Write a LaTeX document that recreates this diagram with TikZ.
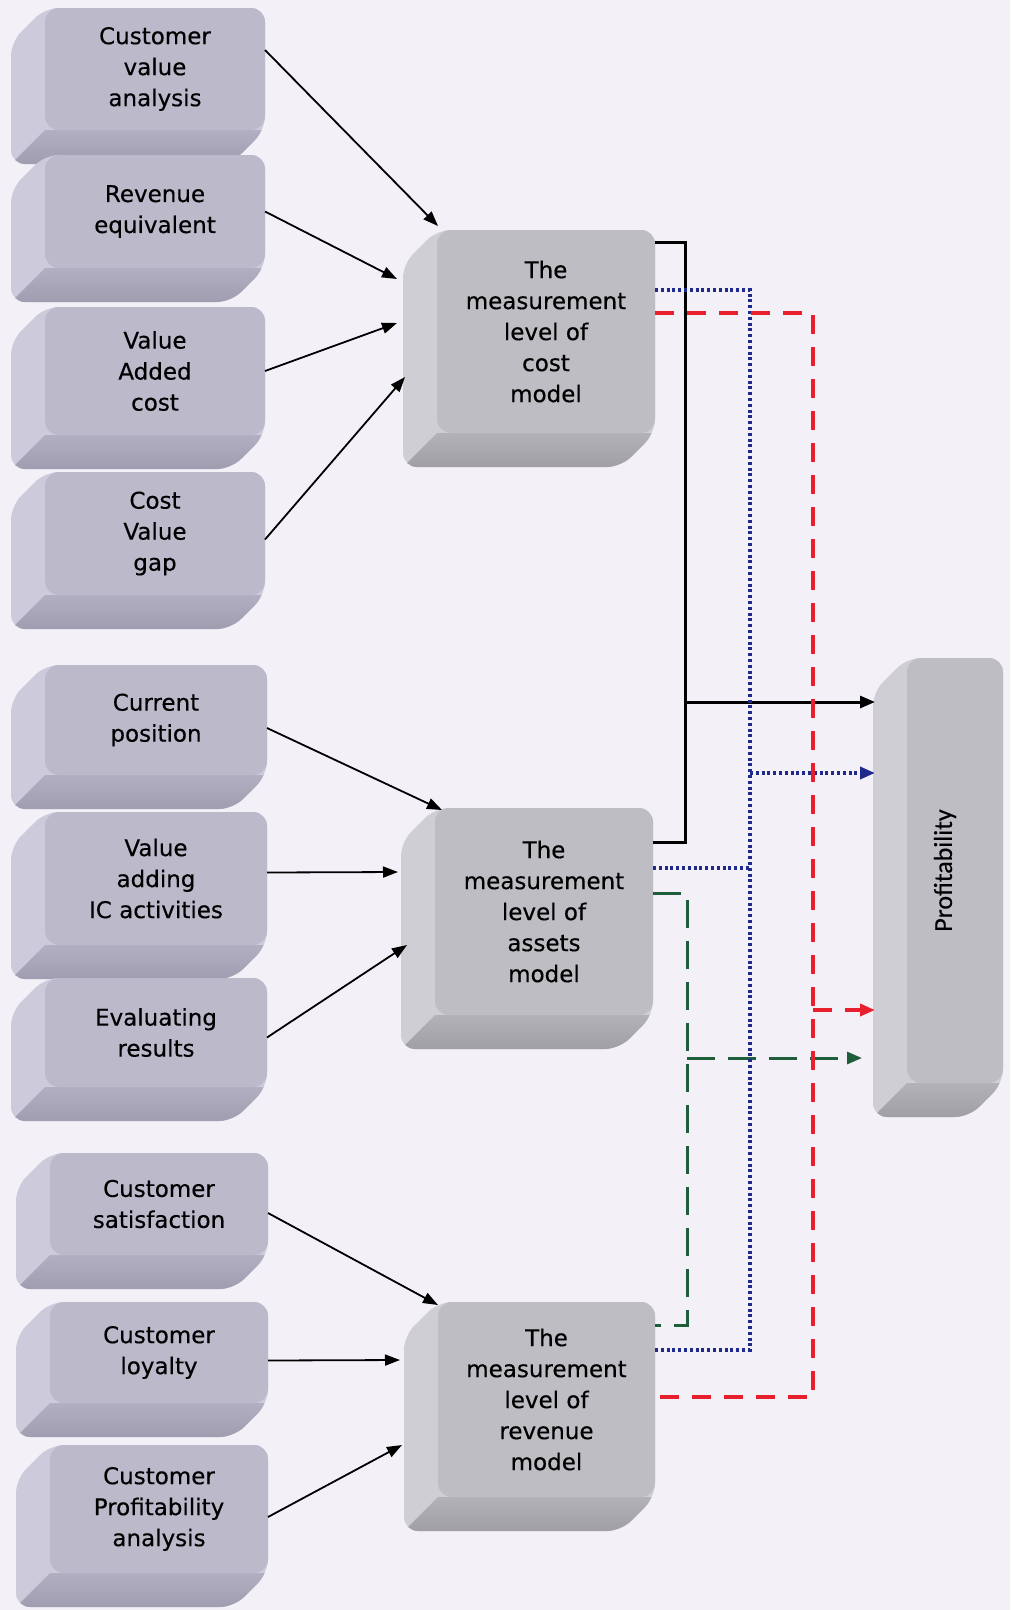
\documentclass[tikz,border=0pt]{standalone}
\usepackage{fontspec}
\setmainfont{DejaVu Sans}[FakeBold=0.4]
\newfontfamily\labelfont{Carlito}[FakeBold=0.3]
\usetikzlibrary{arrows.meta,calc}

\definecolor{paper}{HTML}{F3F1F7}
\definecolor{lavfront}{HTML}{BCB9CB}
\definecolor{lavside}{HTML}{CDCADB}
\definecolor{lavbottop}{HTML}{B2AFC1}
\definecolor{lavbotbot}{HTML}{A09DB0}
\definecolor{grayfront}{HTML}{BEBDC3}
\definecolor{grayside}{HTML}{CFCED4}
\definecolor{graybottop}{HTML}{B3B2B8}
\definecolor{graybotbot}{HTML}{A09FA5}
\definecolor{linkblue}{HTML}{1E2B8C}
\definecolor{linkred}{HTML}{E8202E}
\definecolor{linkgreen}{HTML}{1F5E3A}

% extruded block: #1 name, #2 x1, #3 y1, #4 x2, #5 y2 (front face), #6 palette, #7 text
\newcommand\solidblock[7]{%
  \begin{scope}
    \clip[rounded corners=14pt] (#2,#3) -- (#4,#3) -- (#4,#5) -- ({#4-34},{#5+34})
      -- ({#2-34},{#5+34}) -- ({#2-34},{#3+34}) -- cycle;
    \fill[#6side] ({#2-40},{#3-5}) rectangle ({#4+5},{#5+40});
    \shade[top color=#6bottop, bottom color=#6botbot]
      (#2,#5) -- (#4,#5) -- ({#4-34},{#5+34}) -- ({#2-34},{#5+34}) -- cycle;
  \end{scope}
  \node[face, fill=#6front, minimum width={(#4-#2)*1pt}, minimum height={(#5-#3)*1pt}]
    (#1) at ({(#2+#4)/2},{(#3+#5)/2}) {#7};
}

\begin{document}
\begin{tikzpicture}[x=1pt,y=-1pt,
  face/.style={rectangle, rounded corners=14pt, inner sep=0pt, outer sep=0pt,
    align=center, font=\fontsize{23}{31}\selectfont},
  feed/.style={line width=1.8pt, -{Triangle[length=15pt,width=11pt]}},
  solidlink/.style={line width=3pt, black, line join=miter},
  dotlink/.style={line width=3.6pt, linkblue, dash pattern=on 3pt off 2.8pt},
  redlink/.style={line width=3.5pt, linkred, dash pattern=on 19pt off 13pt},
  greenlink/.style={line width=3pt, linkgreen, dash pattern=on 28pt off 13pt},
  tip/.style={-{Triangle[length=15pt,width=12pt]}}]

\useasboundingbox (0,0) rectangle (1010,1610);
\fill[paper] (0,0) rectangle (1010,1610);

% input factors
\solidblock{b1}{45}{8}{265}{130}{lav}{\fontsize{23}{30}\selectfont Customer\\value\\analysis}
\solidblock{b2}{45}{155}{265}{268}{lav}{Revenue\\equivalent}
\solidblock{b3}{45}{307}{265}{435}{lav}{Value\\Added\\cost}
\solidblock{b4}{45}{472}{265}{595}{lav}{Cost\\Value\\gap}
\solidblock{b5}{45}{665}{267}{775}{lav}{Current\\position}
\solidblock{b6}{45}{812}{267}{945}{lav}{Value\\adding\\IC activities}
\solidblock{b7}{45}{978}{267}{1087}{lav}{Evaluating\\results}
\solidblock{b8}{50}{1153}{268}{1255}{lav}{Customer\\satisfaction}
\solidblock{b9}{50}{1302}{268}{1403}{lav}{Customer\\loyalty}
\solidblock{b10}{50}{1445}{268}{1573}{lav}{Customer\\Profitability\\analysis}

% measurement models
\solidblock{cost}{437}{230}{655}{433}{gray}{The\\measurement\\level of\\cost\\model}
\solidblock{assets}{435}{808}{653}{1015}{gray}{The\\measurement\\level of\\assets\\model}
\solidblock{revenue}{438}{1302}{655}{1497}{gray}{The\\measurement\\level of\\revenue\\model}

% outcome
\solidblock{profit}{907}{658}{1003}{1083}{gray}{}
\node[rotate=90, font=\labelfont\fontsize{26}{30}\selectfont] (profitlabel)
  at ($(profit.center)+(-10,0)$) {Profitability};

% inputs into the models
\draw[feed] ($(b1.east)+(0,-19)$) -- ($(cost.north west)+(1,-4)$);
\draw[feed] (b2.east) -- ($(cost.north west)+(-40,49)$);
\draw[feed] (b3.east) -- ($(cost.north west)+(-40,93)$);
\draw[feed] ($(b4.east)+(0,6)$) -- ($(cost.north west)+(-32,147)$);
\draw[feed] ($(b5.east)+(0,8)$) -- ($(assets.north west)+(7,2)$);
\draw[feed] ($(b6.east)+(0,-6)$) -- ($(assets.north west)+(-37,64)$);
\draw[feed] ($(b7.east)+(0,5)$) -- ($(assets.north west)+(-28,137)$);
\draw[feed] ($(b8.east)+(0,9)$) -- ($(revenue.north west)+(0,3)$);
\draw[feed] ($(b9.east)+(0,8)$) -- ($(revenue.north west)+(-38,58)$);
\draw[feed] ($(b10.east)+(0,8)$) -- ($(revenue.north west)+(-36,143)$);

% bus lines and entry points on the outcome block
\coordinate (busk) at ($(cost.north east)+(30,0)$);
\coordinate (busb) at ($(cost.north east)+(95,0)$);
\coordinate (busr) at ($(cost.north east)+(158,0)$);
\coordinate (busg) at ($(assets.north east)+(34,0)$);
\coordinate (pink) at ($(profit.north west)+(-32,44)$);
\coordinate (pinb) at ($(profit.north west)+(-32,115)$);
\coordinate (pinr) at ($(profit.north west)+(-32,352)$);
\coordinate (ping) at ($(profit.north west)+(-45,400)$);

% cost + assets (solid black)
\draw[solidlink] ($(cost.north east)+(0,12)$) -| (busk |- {$(assets.north east)+(0,34)$})
  -- ($(assets.north east)+(0,34)$);
\draw[solidlink, tip] (busk |- pink) -- (pink);

% assets + revenue (green dashed)
\draw[greenlink] ($(assets.north east)+(0,85)$) -| (busg |- {$(revenue.north east)+(0,23)$})
  -- ($(revenue.north east)+(0,23)$);
\draw[greenlink, tip] (busg |- ping) -- (ping);

% cost + assets + revenue (blue dotted)
\draw[dotlink] ($(cost.north east)+(0,60)$) -| (busb |- {$(revenue.north east)+(0,48)$})
  -- ($(revenue.north east)+(0,48)$);
\draw[dotlink] ($(assets.north east)+(0,60)$) -- (busb |- {$(assets.north east)+(0,60)$});
\draw[dotlink, tip] (busb |- pinb) -- (pinb);

% cost + revenue (red dashed)
\draw[redlink] ($(cost.north east)+(0,83)$) -| (busr |- {$(revenue.north east)+(0,95)$})
  -- ($(revenue.north east)+(0,95)$);
\draw[redlink, tip] (busr |- pinr) -- (pinr);

\end{tikzpicture}
\end{document}
